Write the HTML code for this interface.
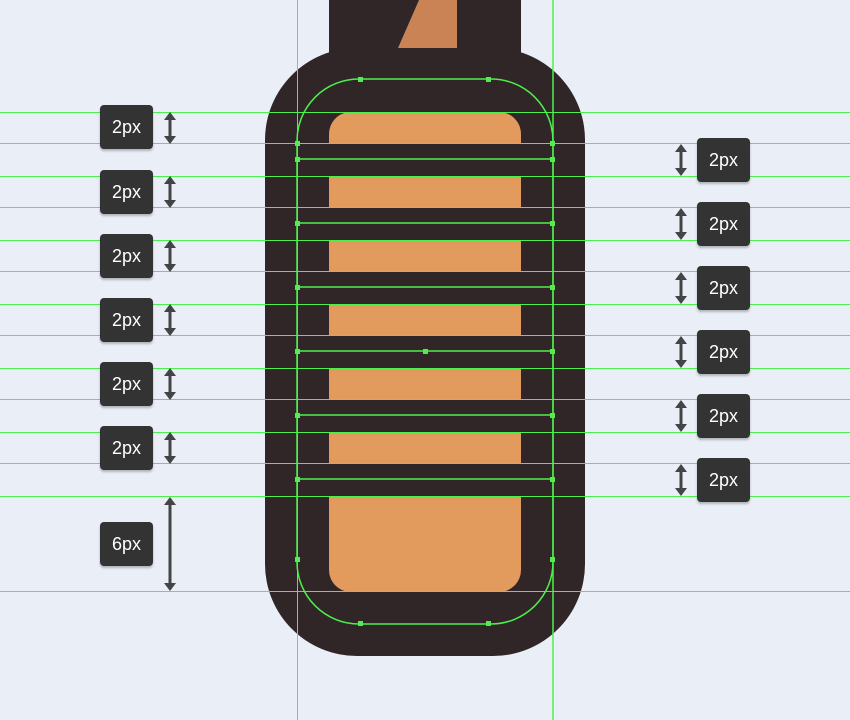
<!DOCTYPE html>
<html><head><style>
body{margin:0;background:#e9eef7;width:850px;height:720px;overflow:hidden;position:relative;font-family:"Liberation Sans",sans-serif}
.b{position:absolute;width:53px;height:44px;background:#333;border-radius:4px;color:#fff;font-size:18px;line-height:44px;text-align:center;box-shadow:0 2px 2px rgba(0,0,0,.25)}
svg{position:absolute;left:0;top:0}
</style></head><body>
<svg width="850" height="720">
<defs><marker id="ah" markerUnits="userSpaceOnUse" markerWidth="12" markerHeight="12" refX="2" refY="6" orient="auto-start-reverse"><path d="M0,0L8,6L0,12z" fill="#444"/></marker></defs>
<rect x="329" y="0" width="192" height="80" fill="#302627"/>
<polygon points="398,48 419,0 457,0 457,48" fill="#c98355"/>
<rect x="265" y="48" width="320" height="608" rx="92" fill="#302627"/>
<rect x="329" y="112" width="192" height="480" rx="22" fill="#e39a5d"/>
<g fill="#302627">
<rect x="329" y="143" width="192" height="33"/><rect x="329" y="207" width="192" height="33"/><rect x="329" y="271" width="192" height="33"/><rect x="329" y="335" width="192" height="33"/><rect x="329" y="399" width="192" height="33"/><rect x="329" y="463" width="192" height="33"/>
</g>
<g stroke="#aab" stroke-width="1">
<line x1="297.5" y1="0" x2="297.5" y2="720"/>
<line x1="0" y1="143.5" x2="850" y2="143.5"/><line x1="0" y1="207.5" x2="850" y2="207.5"/><line x1="0" y1="271.5" x2="850" y2="271.5"/><line x1="0" y1="335.5" x2="850" y2="335.5"/><line x1="0" y1="399.5" x2="850" y2="399.5"/><line x1="0" y1="463.5" x2="850" y2="463.5"/><line x1="0" y1="591.5" x2="850" y2="591.5"/>
</g>
<g stroke="#4cf04c" stroke-width="1" fill="none">
<line x1="553" y1="0" x2="553" y2="720" stroke-width="1.5"/>
<line x1="0" y1="112.5" x2="850" y2="112.5"/><line x1="0" y1="176.5" x2="850" y2="176.5"/><line x1="0" y1="240.5" x2="850" y2="240.5"/><line x1="0" y1="304.5" x2="850" y2="304.5"/><line x1="0" y1="368.5" x2="850" y2="368.5"/><line x1="0" y1="432.5" x2="850" y2="432.5"/><line x1="0" y1="496.5" x2="850" y2="496.5"/>
<rect x="297" y="79" width="256" height="545" rx="62" stroke-width="1.5"/>
<g stroke-width="1.5"><line x1="297" y1="159" x2="553" y2="159"/><line x1="297" y1="223" x2="553" y2="223"/><line x1="297" y1="287" x2="553" y2="287"/><line x1="297" y1="351" x2="553" y2="351"/><line x1="297" y1="415" x2="553" y2="415"/><line x1="297" y1="479" x2="553" y2="479"/></g>
</g>
<g fill="#4cf04c">
<rect x="358" y="77" width="5" height="5"/><rect x="486" y="77" width="5" height="5"/><rect x="358" y="621" width="5" height="5"/><rect x="486" y="621" width="5" height="5"/>
<rect x="295" y="141" width="5" height="5"/><rect x="550" y="141" width="5" height="5"/>
<rect x="295" y="157" width="5" height="5"/><rect x="550" y="157" width="5" height="5"/>
<rect x="295" y="221" width="5" height="5"/><rect x="550" y="221" width="5" height="5"/>
<rect x="295" y="285" width="5" height="5"/><rect x="550" y="285" width="5" height="5"/>
<rect x="295" y="349" width="5" height="5"/><rect x="550" y="349" width="5" height="5"/><rect x="423" y="349" width="5" height="5"/>
<rect x="295" y="413" width="5" height="5"/><rect x="550" y="413" width="5" height="5"/>
<rect x="295" y="477" width="5" height="5"/><rect x="550" y="477" width="5" height="5"/>
<rect x="295" y="557" width="5" height="5"/><rect x="550" y="557" width="5" height="5"/>
</g>
<g stroke="#444" stroke-width="3" marker-start="url(#ah)" marker-end="url(#ah)">
<line x1="170" y1="118" x2="170" y2="138"/><line x1="170" y1="182" x2="170" y2="202"/><line x1="170" y1="246" x2="170" y2="266"/><line x1="170" y1="310" x2="170" y2="330"/><line x1="170" y1="374" x2="170" y2="394"/><line x1="170" y1="438" x2="170" y2="458"/><line x1="170" y1="503" x2="170" y2="585"/>
<line x1="681" y1="150" x2="681" y2="170"/><line x1="681" y1="214" x2="681" y2="234"/><line x1="681" y1="278" x2="681" y2="298"/><line x1="681" y1="342" x2="681" y2="362"/><line x1="681" y1="406" x2="681" y2="426"/><line x1="681" y1="470" x2="681" y2="490"/>
</g>
</svg>
<div class="b" style="left:100px;top:105px">2px</div>
<div class="b" style="left:100px;top:170px">2px</div>
<div class="b" style="left:100px;top:234px">2px</div>
<div class="b" style="left:100px;top:298px">2px</div>
<div class="b" style="left:100px;top:362px">2px</div>
<div class="b" style="left:100px;top:426px">2px</div>
<div class="b" style="left:100px;top:522px">6px</div>
<div class="b" style="left:697px;top:138px">2px</div>
<div class="b" style="left:697px;top:202px">2px</div>
<div class="b" style="left:697px;top:266px">2px</div>
<div class="b" style="left:697px;top:330px">2px</div>
<div class="b" style="left:697px;top:394px">2px</div>
<div class="b" style="left:697px;top:458px">2px</div>
</body></html>
